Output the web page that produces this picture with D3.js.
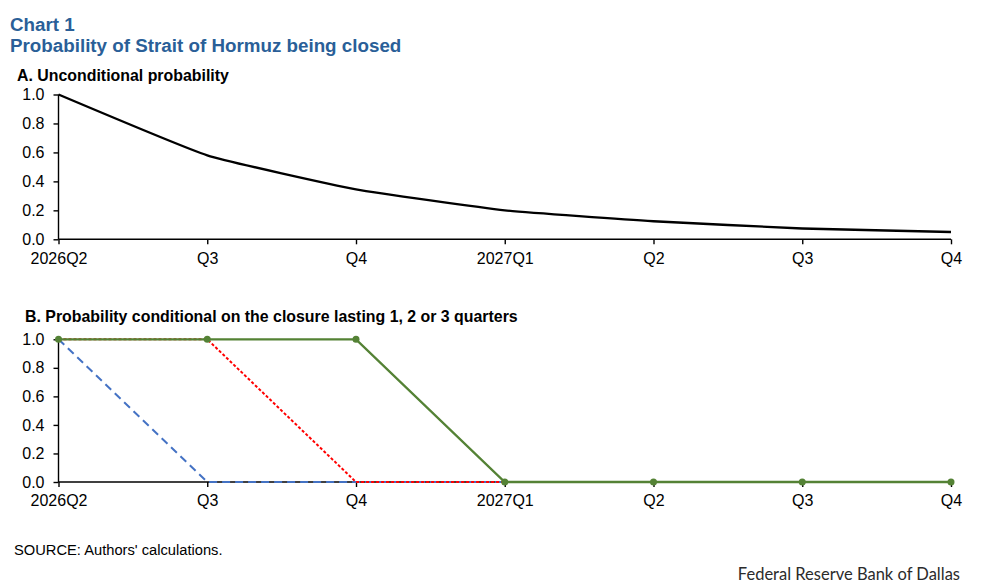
<!DOCTYPE html>
<html>
<head>
<meta charset="utf-8">
<script src="https://cdn.jsdelivr.net/npm/d3@7"></script>
<style>
  html, body { margin: 0; padding: 0; background: #fff; }
  svg { display: block; font-family: "Liberation Sans", Arial, sans-serif; }
</style>
</head>
<body>
<svg id="chart" width="996" height="588"></svg>
<script>
const categories = ["2026Q2","2026Q3","2026Q4","2027Q1","2027Q2","2027Q3","2027Q4"];
const tickLabels = ["2026Q2","Q3","Q4","2027Q1","Q2","Q3","Q4"];
const yTicks = [0, 0.2, 0.4, 0.6, 0.8, 1.0];
const unconditional = [1.0, 0.58, 0.345, 0.20, 0.125, 0.075, 0.05];
const closure1q = [1, 0, 0, 0, 0, 0, 0];
const closure2q = [1, 1, 0, 0, 0, 0, 0];
const closure3q = [1, 1, 1, 0, 0, 0, 0];

const svg = d3.select("#chart");
const blue = "#2a5f98";

svg.append("text").attr("x", 10).attr("y", 31).attr("fill", blue)
  .attr("font-size", 18.8).attr("font-weight", "bold").text("Chart 1");
svg.append("text").attr("x", 10).attr("y", 52).attr("fill", blue)
  .attr("font-size", 18.8).attr("font-weight", "bold").text("Probability of Strait of Hormuz being closed");

const x = d3.scalePoint().domain(categories).range([58.5, 951]);

function drawAxes(g, y) {
  const xa = d3.axisBottom(x).tickSizeOuter(0).tickSize(5).tickPadding(8)
    .tickFormat((d, i) => tickLabels[i]);
  const ya = d3.axisLeft(y).tickValues(yTicks).tickSizeOuter(0).tickSize(5).tickPadding(9)
    .tickFormat(d3.format(".1f"));
  const gx = g.append("g").attr("transform", `translate(0,${y(0)})`).call(xa);
  const gy = g.append("g").attr("transform", `translate(${x.range()[0]},0)`).call(ya);
  [gx, gy].forEach(a => {
    a.selectAll("path, line").attr("stroke", "#000").attr("stroke-width", 1.4);
    a.selectAll("text").attr("font-size", 16).attr("fill", "#000")
      .attr("font-family", "Liberation Sans, Arial, sans-serif");
  });
  gx.select(".domain").attr("d", `M${x.range()[0]},0H${x.range()[1]}`);
  gy.select(".domain").attr("d", `M0,${y(0)}V${y(1)}`);
}

// Panel A
const gA = svg.append("g");
gA.append("text").attr("x", 17).attr("y", 81).attr("font-size", 15.9)
  .attr("font-weight", "bold").attr("fill", "#000").text("A. Unconditional probability");
const yA = d3.scaleLinear().domain([0, 1]).range([239.3, 94.5]);
drawAxes(gA, yA);
gA.append("path")
  .datum(unconditional)
  .attr("fill", "none").attr("stroke", "#000").attr("stroke-width", 2.4)
  .attr("d", d3.line().x((d, i) => x(categories[i])).y(d => yA(d)).curve(d3.curveCardinal.tension(0.6)));

// Panel B
const gB = svg.append("g");
gB.append("text").attr("x", 25).attr("y", 322).attr("font-size", 15.9)
  .attr("font-weight", "bold").attr("fill", "#000")
  .text("B. Probability conditional on the closure lasting 1, 2 or 3 quarters");
const yB = d3.scaleLinear().domain([0, 1]).range([482, 339.3]);
drawAxes(gB, yB);

const lineB = d3.line().x((d, i) => x(categories[i])).y(d => yB(d));
gB.append("path").datum(closure1q).attr("fill", "none")
  .attr("stroke", "#4472c4").attr("stroke-width", 2).attr("stroke-dasharray", "8,5")
  .attr("d", lineB);
gB.append("path").datum(closure2q).attr("fill", "none")
  .attr("stroke", "#ff0000").attr("stroke-width", 2).attr("stroke-dasharray", "3,2")
  .attr("d", lineB);
gB.append("path").datum(closure3q).attr("fill", "none")
  .attr("stroke", "#548235").attr("stroke-width", 2.3)
  .attr("d", lineB);
gB.selectAll("circle.m").data(closure3q).enter().append("circle")
  .attr("class", "m")
  .attr("cx", (d, i) => x(categories[i])).attr("cy", d => yB(d))
  .attr("r", 3.5).attr("fill", "#548235");

// Footer
svg.append("text").attr("x", 14).attr("y", 555).attr("font-size", 14.7)
  .attr("fill", "#000").text("SOURCE: Authors' calculations.");
svg.append("text").attr("x", 960).attr("y", 580).attr("text-anchor", "end")
  .attr("font-size", 16.5).attr("fill", "#2b2b2b")
  .attr("font-family", "Lato, 'Open Sans', sans-serif")
  .text("Federal Reserve Bank of Dallas");
</script>
</body>
</html>
